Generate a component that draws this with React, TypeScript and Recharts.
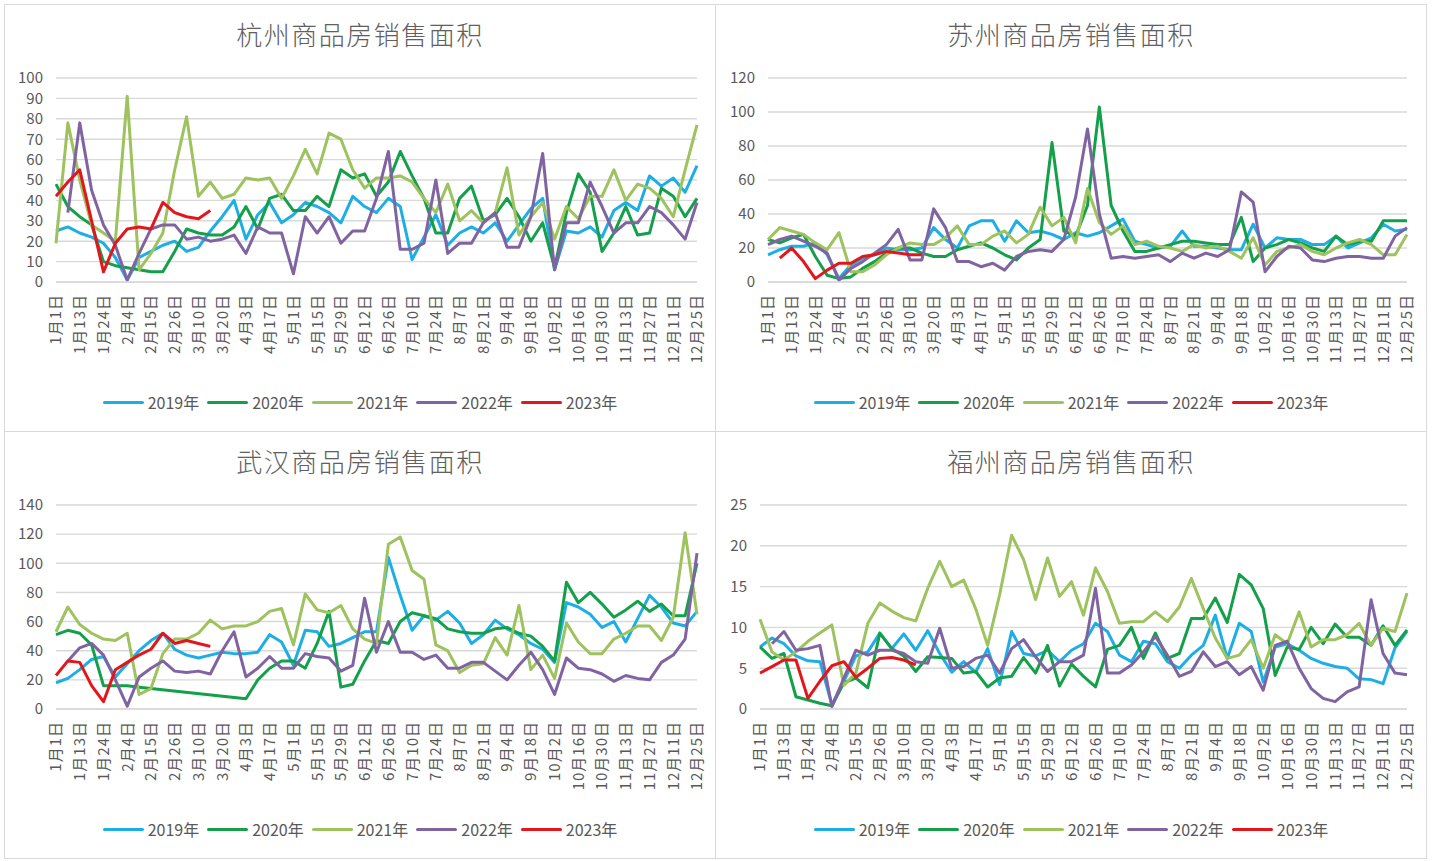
import { LineChart, Line, XAxis, YAxis, CartesianGrid } from 'recharts';

const FONT = '"Noto Sans CJK SC", "Noto Sans", sans-serif';
const TEXT = '#595959';
const GRID = '#d9d9d9';

// weekly categories, every second one is labelled on the axis
const dates = [
  '1月1日', '1月7日', '1月13日', '1月18日', '1月24日', '1月29日', '2月4日', '2月9日', '2月15日', '2月20日',
  '2月26日', '3月4日', '3月10日', '3月15日', '3月20日', '3月27日', '4月3日', '4月10日', '4月17日', '4月24日',
  '5月1日', '5月8日', '5月15日', '5月22日', '5月29日', '6月5日', '6月12日', '6月19日', '6月26日', '7月3日',
  '7月10日', '7月17日', '7月24日', '7月31日', '8月7日', '8月14日', '8月21日', '8月28日', '9月4日', '9月11日',
  '9月18日', '9月25日', '10月2日', '10月9日', '10月16日', '10月23日', '10月30日', '11月6日', '11月13日', '11月20日',
  '11月27日', '12月4日', '12月11日', '12月18日', '12月25日',
];

const years = ['2019年', '2020年', '2021年', '2022年', '2023年'];
const COLORS = ['#1eaee6', '#14a04b', '#9ec25e', '#8064a2', '#e3161c'];

// 杭州
const hz2019 = [25, 27, 24, 22, 19, 12, 1, 12, 15, 18, 20, 15, 17, 25, 32, 40, 21, 33, 39, 29, 33, 39, 37, 34, 29, 42, 37, 34, 41, 37, 11, 22, 33, 18, 24, 27, 24, 29, 20, 28, 36, 41, 6, 25, 24, 27, 22, 35, 39, 35, 52, 47, 51, 44, 57];
const hz2020 = [48, 37, 32, 28, 10, 8, 7, 6, 5, 5, 15, 26, 24, 23, 23, 27, 37, 26, 41, 43, 35, 35, 42, 37, 55, 51, 53, 42, 49, 64, 52, 41, 24, 24, 41, 47, 30, 33, 41, 32, 20, 29, 7, 34, 53, 44, 15, 24, 37, 23, 24, 46, 42, 32, 41];
const hz2021 = [19, 78, 50, 28, 24, 20, 91, 6, 14, 24, 55, 81, 42, 49, 41, 43, 51, 50, 51, 41, 52, 65, 53, 73, 70, 55, 46, 51, 51, 52, 49, 41, 34, 48, 30, 35, 29, 34, 56, 23, 32, 39, 21, 37, 31, 42, 42, 55, 40, 48, 46, 41, 32, 55, 77];
const hz2022 = [null, 34, 78, 45, 28, 18, 1, 14, 26, 28, 28, 21, 22, 20, 21, 23, 14, 27, 24, 24, 4, 32, 24, 32, 19, 25, 25, 41, 64, 16, 16, 19, 50, 14, 19, 19, 29, 34, 17, 17, 32, 63, 6, 29, 29, 49, 37, 24, 29, 29, 37, 34, 28, 21, 39];
const hz2023 = [42, 49, 55, 30, 5, 19, 26, 27, 26, 39, 34, 32, 31, 35];

// 苏州
const sz2019 = [16, 19, 21, 21, 23, 16, 2, 10, 14, 16, 20, 19, 19, 20, 32, 25, 20, 33, 36, 36, 24, 36, 29, 30, 28, 25, 29, 27, 29, 33, 37, 24, 22, 20, 21, 30, 21, 21, 20, 19, 19, 34, 20, 26, 25, 25, 22, 22, 27, 20, 23, 26, 34, 30, 31];
const sz2020 = [25, 23, 26, 28, 15, 4, 2, 3, 8, 12, 17, 20, 20, 17, 15, 15, 19, 21, 23, 20, 16, 13, 20, 25, 82, 30, 27, 45, 103, 45, 30, 18, 18, 20, 22, 24, 24, 23, 22, 22, 38, 12, 20, 22, 25, 23, 20, 18, 27, 22, 24, 24, 36, 36, 36];
const sz2021 = [25, 32, 30, 28, 23, 19, 29, 6, 6, 10, 16, 20, 23, 22, 22, 26, 33, 22, 22, 27, 30, 23, 28, 44, 33, 38, 23, 55, 35, 28, 33, 22, 24, 21, 20, 18, 22, 20, 21, 18, 14, 26, 10, 18, 20, 22, 18, 16, 20, 23, 25, 22, 16, 16, 28];
const sz2022 = [22, 25, 27, 24, 21, 17, 1, 8, 12, 17, 22, 31, 13, 13, 43, 32, 12, 12, 9, 11, 7, 15, 18, 19, 18, 25, 50, 90, 40, 14, 15, 14, 15, 16, 12, 17, 14, 17, 15, 19, 53, 47, 6, 15, 21, 20, 13, 12, 14, 15, 15, 14, 14, 27, 32];
const sz2023 = [null, 14, 20, 12, 2, 7, 11, 11, 15, 16, 18, 17, 16, 16];

// 武汉
const wh2019 = [18, 21, 27, 34, 36, 22, 31, 40, 47, 52, 41, 37, 35, 37, 39, 38, 38, 39, 51, 46, 30, 54, 53, 43, 45, 49, 53, 53, 104, 78, 54, 64, 61, 67, 59, 45, 51, 61, 55, 51, 45, 41, 32, 73, 70, 65, 56, 60, 46, 62, 78, 70, 59, 57, 67];
const wh2020 = [51, 54, 52, 44, 16, 16, 16, 15, null, null, null, null, null, null, null, null, 7, 20, 28, 33, 33, 28, 45, 67, 15, 17, 33, 47, 45, 60, 66, 64, 62, 55, 53, 52, 52, 55, 56, 52, 50, 43, 33, 87, 73, 80, 72, 63, 68, 74, 67, 72, 64, 64, 100];
const wh2021 = [53, 70, 58, 52, 48, 47, 52, 10, 14, 38, 48, 48, 52, 61, 55, 57, 57, 60, 67, 69, 44, 79, 68, 66, 71, 55, 48, 45, 113, 118, 95, 89, 44, 40, 25, 30, 31, 49, 37, 71, 27, 37, 21, 59, 46, 38, 38, 48, 52, 57, 57, 47, 63, 121, 65];
const wh2022 = [null, 33, 42, 45, 37, 20, 2, 22, 28, 33, 26, 25, 26, 24, 40, 53, 22, 28, 36, 28, 28, 38, 36, 35, 26, 30, 76, 39, 60, 39, 39, 34, 37, 28, 28, 32, 32, 26, 20, 30, 39, 27, 10, 35, 28, 27, 24, 19, 23, 21, 20, 32, 37, 48, 107];
const wh2023 = [23, 33, 32, 16, 5, 27, 32, 37, 41, 52, 45, 47, 45, 43];

// 福州
const fz2019 = [7.6, 8.7, 8.0, 6.5, 5.9, 5.8, 0.5, 3.4, 6.5, 7.0, 9.3, 7.4, 9.2, 7.2, 9.6, 6.8, 4.5, 5.8, 4.5, 7.4, 3.0, 9.5, 6.8, 6.5, 7.2, 5.8, 7.2, 8.0, 10.5, 9.5, 6.6, 5.8, 8.3, 8.0, 5.8, 5.0, 6.6, 7.8, 11.5, 6.2, 10.5, 9.5, 3.3, 7.6, 8.0, 7.2, 6.2, 5.6, 5.2, 5.0, 3.7, 3.6, 3.1, 7.5, 9.5];
const fz2020 = [7.6, 6.2, 6.8, 1.5, 1.1, 0.7, 0.4, 3.2, 3.8, 2.6, 9.3, 7.4, 6.5, 4.6, 6.4, 6.3, 6.2, 4.4, 4.6, 2.7, 3.8, 4.0, 6.3, 4.4, 7.8, 2.8, 5.5, 4.0, 2.7, 7.3, 7.8, 10.0, 6.2, 9.3, 6.2, 6.8, 11.1, 11.1, 13.6, 10.6, 16.5, 15.2, 12.3, 4.1, 7.6, 7.3, 10.0, 8.0, 10.4, 8.8, 8.8, 7.8, 10.2, 7.8, 9.7];
const fz2021 = [11, 7, 6, 7, 8.3, 9.3, 10.3, 2.9, 4.4, 10.5, 13, 12, 11.2, 10.8, 14.8, 18.1, 15, 15.8, 12.3, 7.8, 14, 21.3, 18.3, 13.4, 18.5, 13.8, 15.6, 11.5, 17.3, 14.4, 10.5, 10.7, 10.7, 11.9, 10.7, 12.5, 16.0, 12.3, 8.7, 6.2, 6.6, 8.5, 5.0, 9.1, 8.0, 11.9, 7.6, 8.5, 8.5, 9.1, 10.5, 7.8, 9.9, 9.5, 14.2];
const fz2022 = [null, 8.0, 9.5, 7.2, 7.4, 7.8, 0.3, 3.8, 7.2, 6.6, 7.2, 7.2, 6.8, 5.8, 5.6, 9.9, 5.0, 5.2, 6.2, 6.6, 4.4, 7.4, 8.5, 6.4, 4.6, 5.8, 5.8, 6.6, 14.8, 4.4, 4.4, 5.4, 7.0, 8.9, 6.6, 4.0, 4.6, 7.0, 5.2, 5.8, 4.2, 5.2, 2.3, 7.8, 8.3, 5.0, 2.5, 1.3, 0.9, 2.1, 2.7, 13.4, 6.8, 4.4, 4.2];
const fz2023 = [4.4, 5.2, 6.0, 6.0, 1.3, 3.4, 5.3, 5.8, 3.9, 5.0, 6.2, 6.3, 6.0, 5.4];

const hzTicks = [0, 10, 20, 30, 40, 50, 60, 70, 80, 90, 100];
const szTicks = [0, 20, 40, 60, 80, 100, 120];
const whTicks = [0, 20, 40, 60, 80, 100, 120, 140];
const fzTicks = [0, 5, 10, 15, 20, 25];

function buildRows(series: (number | null)[][]) {
  return dates.map((date, i) => {
    const row: Record<string, string | number | null> = { date };
    series.forEach((s, k) => {
      row['s' + k] = s[i] ?? null;
    });
    return row;
  });
}

function DateTick({ x, y, payload }: any) {
  return (
    <g transform={`translate(${x},${y})`}>
      <text
        transform="rotate(-90)"
        x={-4}
        y={0}
        dy="0.36em"
        textAnchor="end"
        fill={TEXT}
        fontSize={15}
        letterSpacing={1}
        fontFamily={FONT}
      >
        {payload.value}
      </text>
    </g>
  );
}

function Legend() {
  return (
    <div
      style={{
        position: 'absolute',
        top: 386,
        left: 0,
        width: '100%',
        display: 'flex',
        justifyContent: 'center',
        alignItems: 'center',
        fontFamily: FONT,
        fontSize: 16,
        color: TEXT,
      }}
    >
      {years.map((y, i) => (
        <div key={y} style={{ display: 'flex', alignItems: 'center', marginRight: i < years.length - 1 ? 8 : 0 }}>
          <div style={{ width: 41, height: 3, borderRadius: 2, background: COLORS[i], marginRight: 4 }} />
          <span style={{ lineHeight: '22px' }}>{y}</span>
        </div>
      ))}
    </div>
  );
}

interface PanelProps {
  title: string;
  series: (number | null)[][];
  ticks: number[];
  axisWidth: number;
  rightMargin: number;
  left: number;
  top: number;
}

function Panel({ title, series, ticks, axisWidth, rightMargin, left, top }: PanelProps) {
  const rows = buildRows(series);
  return (
    <div
      style={{
        position: 'absolute',
        left,
        top,
        width: 712,
        height: 428,
        border: `1px solid ${GRID}`,
        boxSizing: 'border-box',
        background: '#fff',
      }}
    >
      <div
        style={{
          position: 'absolute',
          top: 13,
          left: 0,
          width: '100%',
          textAlign: 'center',
          fontFamily: FONT,
          fontSize: 26,
          fontWeight: 300,
          letterSpacing: 1.5,
          lineHeight: '32px',
          color: '#606060',
        }}
      >
        {title}
      </div>
      <div style={{ position: 'absolute', left: 0, top: 0 }}>
        <LineChart
          width={710}
          height={426}
          data={rows}
          margin={{ top: 73, right: rightMargin, bottom: 69, left: 0 }}
        >
          <CartesianGrid vertical={false} stroke={GRID} strokeWidth={1.4} />
          <XAxis
            dataKey="date"
            interval={1}
            height={80}
            tick={<DateTick />}
            tickLine={false}
            axisLine={{ stroke: GRID, strokeWidth: 1.4 }}
          />
          <YAxis
            width={axisWidth}
            domain={[0, ticks[ticks.length - 1]]}
            ticks={ticks}
            interval={0}
            axisLine={false}
            tickLine={false}
            tickMargin={7}
            tick={{ fill: TEXT, fontSize: 15, fontFamily: FONT }}
          />
          {series.map((_, k) => (
            <Line
              key={k}
              dataKey={'s' + k}
              name={years[k]}
              stroke={COLORS[k]}
              strokeWidth={3}
              strokeLinejoin="round"
              dot={false}
              activeDot={false}
              connectNulls
              isAnimationActive={false}
            />
          ))}
        </LineChart>
      </div>
      <Legend />
    </div>
  );
}

export default function App() {
  return (
    <div style={{ position: 'absolute', left: 0, top: 0, width: 1433, height: 861, background: '#fff' }}>
      <Panel
        title="杭州商品房销售面积"
        series={[hz2019, hz2020, hz2021, hz2022, hz2023]}
        ticks={hzTicks}
        axisWidth={51}
        rightMargin={18}
        left={4}
        top={4}
      />
      <Panel
        title="苏州商品房销售面积"
        series={[sz2019, sz2020, sz2021, sz2022, sz2023]}
        ticks={szTicks}
        axisWidth={52}
        rightMargin={19}
        left={715}
        top={4}
      />
      <Panel
        title="武汉商品房销售面积"
        series={[wh2019, wh2020, wh2021, wh2022, wh2023]}
        ticks={whTicks}
        axisWidth={51}
        rightMargin={18}
        left={4}
        top={431}
      />
      <Panel
        title="福州商品房销售面积"
        series={[fz2019, fz2020, fz2021, fz2022, fz2023]}
        ticks={fzTicks}
        axisWidth={44}
        rightMargin={19}
        left={715}
        top={431}
      />
    </div>
  );
}
